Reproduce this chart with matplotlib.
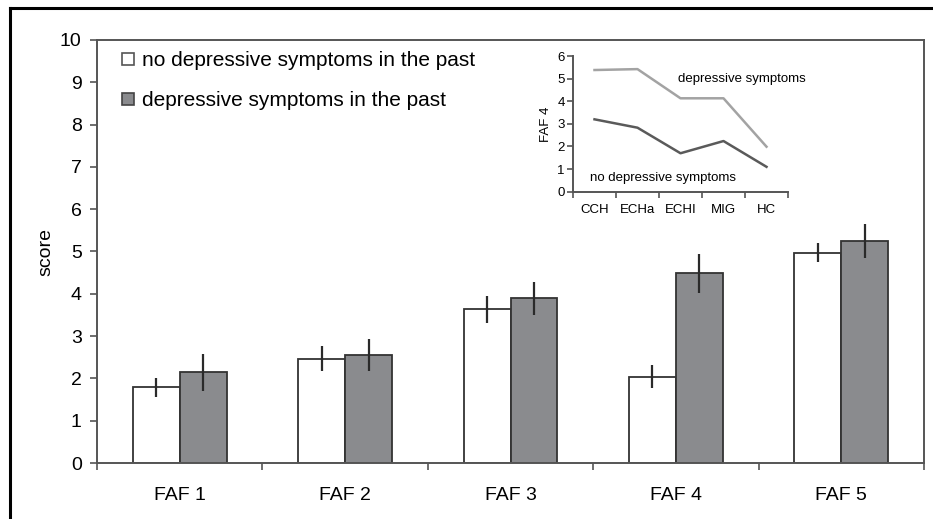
import matplotlib
matplotlib.use("Agg")
import matplotlib.pyplot as plt
from matplotlib.lines import Line2D
import numpy as np

plt.rcParams['font.family'] = ['Liberation Sans', 'DejaVu Sans']

categories = ["FAF 1", "FAF 2", "FAF 3", "FAF 4", "FAF 5"]
no_dep = [1.79, 2.47, 3.63, 2.04, 4.97]
no_dep_err = [0.22, 0.30, 0.32, 0.27, 0.23]
dep = [2.14, 2.55, 3.89, 4.48, 5.25]
dep_err = [0.43, 0.37, 0.39, 0.47, 0.40]
series_labels = ["no depressive symptoms in the past", "depressive symptoms in the past"]

inset_groups = ["CCH", "ECHa", "ECHI", "MIG", "HC"]
inset_dep = [5.38, 5.42, 4.13, 4.13, 1.99]
inset_nodep = [3.20, 2.83, 1.70, 2.24, 1.10]

W, H = 933, 519
fig = plt.figure(figsize=(W / 100, H / 100), dpi=100)
fig.patch.set_facecolor("white")

# outer border (left + top)
fig.add_artist(Line2D([10 / W, 10 / W], [0, 1 - 8 / H], color="black", lw=2.2, transform=fig.transFigure))
fig.add_artist(Line2D([10 / W, 1], [1 - 8 / H, 1 - 8 / H], color="black", lw=2.2, transform=fig.transFigure))

spine_c = "#555555"
edge_c = "#333333"
gray = "#8a8b8e"

ax = fig.add_axes([97 / W, 1 - 463 / H, (924 - 97) / W, (463 - 40) / H])
x = np.arange(len(categories))
bw = 0.284
ax.bar(x - bw / 2, no_dep, bw, color="white", edgecolor=edge_c, linewidth=1.3, zorder=2)
ax.bar(x + bw / 2, dep, bw, color=gray, edgecolor=edge_c, linewidth=1.3, zorder=2)
ax.errorbar(x - bw / 2, no_dep, yerr=no_dep_err, fmt="none", ecolor="#2a2a2a", elinewidth=1.6, capsize=0, zorder=3)
ax.errorbar(x + bw / 2, dep, yerr=dep_err, fmt="none", ecolor="#2a2a2a", elinewidth=1.6, capsize=0, zorder=3)

ax.set_xlim(-0.5, len(categories) - 0.5)
ax.set_ylim(0, 10)
ax.set_yticks(range(0, 11))
ax.tick_params(axis="y", direction="out", length=5, width=1.2, color=spine_c, labelsize=14, pad=6)
ax.set_xticks(np.arange(-0.5, len(categories), 1.0))
ax.set_xticklabels([])
ax.tick_params(axis="x", direction="out", length=5, width=1.2, color=spine_c)
ax.set_xticks(x, minor=True)
ax.set_xticklabels(categories, minor=True)
ax.tick_params(axis="x", which="minor", length=0, labelsize=14, pad=17)
for s in ax.spines.values():
    s.set_color(spine_c)
    s.set_linewidth(1.4)
ax.set_ylabel("score", fontsize=14, labelpad=4)

handles = [
    Line2D([], [], marker="s", linestyle="none", markersize=8, markerfacecolor="white", markeredgecolor="#555555", markeredgewidth=1.2),
    Line2D([], [], marker="s", linestyle="none", markersize=8, markerfacecolor=gray, markeredgecolor="#444444", markeredgewidth=1.2),
]
ax.legend(handles, series_labels, loc="upper left", bbox_to_anchor=((122 - 97) / 827, (463 - 51) / 423),
          frameon=False, fontsize=15, handlelength=0.55, handletextpad=0.4, labelspacing=1.0,
          borderpad=0, borderaxespad=0)

# inset
ia = fig.add_axes([573 / W, 1 - 191.7 / H, 215 / W, 135.7 / H])
ix = np.arange(len(inset_groups))
ia.plot(ix, inset_dep, color="#a3a3a3", lw=1.8)
ia.plot(ix, inset_nodep, color="#5a5a5a", lw=1.8)
ia.set_xlim(-0.5, len(inset_groups) - 0.5)
ia.set_ylim(0, 6)
ia.set_yticks(range(0, 7))
ia.set_xticks(np.arange(-0.5, len(inset_groups), 1.0))
ia.set_xticklabels([])
ia.set_xticks(ix, minor=True)
ia.set_xticklabels(inset_groups, minor=True)
ia.tick_params(axis="x", which="minor", length=0, labelsize=9.5, pad=9)
ia.tick_params(axis="x", which="major", direction="out", length=4, width=1.2, color=spine_c)
ia.tick_params(axis="y", direction="out", length=4, width=1.2, color=spine_c, labelsize=9.5, pad=2)
ia.spines["top"].set_visible(False)
ia.spines["right"].set_visible(False)
for k in ("left", "bottom"):
    ia.spines[k].set_color(spine_c)
    ia.spines[k].set_linewidth(1.4)
ia.set_ylabel("FAF 4", fontsize=9.5, labelpad=4)
ia.patch.set_alpha(0)
ia.text(3.42, 5.0, "depressive symptoms", fontsize=9.5, ha="center", va="center")
ia.text(1.59, 0.62, "no depressive symptoms", fontsize=9.5, ha="center", va="center")

fig.savefig("out.png", dpi=100)
